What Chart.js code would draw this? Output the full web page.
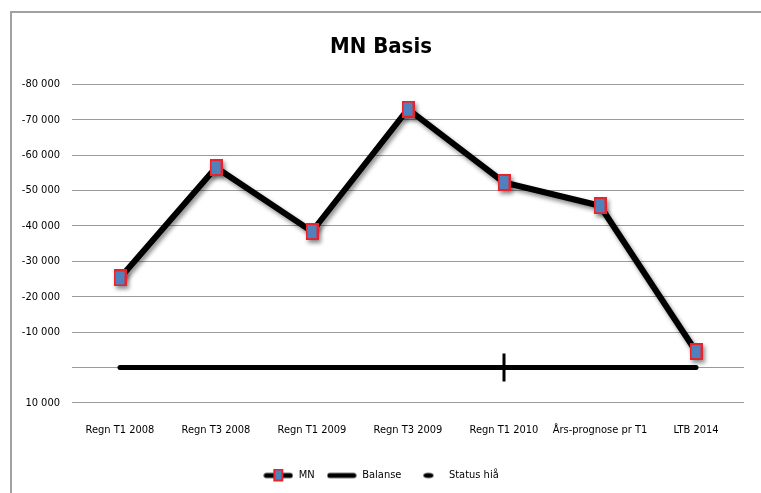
<!DOCTYPE html>
<html>
<head>
<meta charset="utf-8">
<script src="https://cdn.jsdelivr.net/npm/chart.js@4"></script>
<style>
  body { margin: 0; background: #fff; overflow: hidden; }
  #wrap { position: relative; width: 761px; height: 493px; }
  #frame { position: absolute; left: 10px; top: 11px; width: 751px; height: 482px;
           border-left: 2px solid #a0a0a0; border-top: 2px solid #a0a0a0; box-sizing: border-box; }
  #myChart { position: absolute; left: 0; top: 0; }
</style>
</head>
<body>
<div id="wrap">
  <div id="frame"></div>
  <canvas id="myChart" width="761" height="493"></canvas>
</div>
<script>
  const labels = ['Regn T1 2008', 'Regn T3 2008', 'Regn T1 2009', 'Regn T3 2009', 'Regn T1 2010', 'Års-prognose pr T1', 'LTB 2014'];
  const mnValues = [-25300, -56500, -38400, -73000, -52300, -45700, -4500];
  const balanseValues = [0, 0, 0, 0, 0, 0, 0];
  const statusValues = [null, null, null, null, 0, null, null];

  const font = "'DejaVu Sans Condensed', 'Liberation Sans Narrow', 'Liberation Sans', sans-serif";

  // square marker, a bit taller than wide
  function marker(w, h) {
    const c = document.createElement('canvas');
    c.width = w; c.height = h;
    const g = c.getContext('2d');
    g.fillStyle = '#e8232b';
    g.fillRect(0, 0, w, h);
    g.fillStyle = '#4f81bd';
    g.fillRect(2, 2, w - 4, h - 4);
    return c;
  }

  function legendIcon(kind) {
    const c = document.createElement('canvas');
    c.width = 30; c.height = 14;
    const g = c.getContext('2d');
    g.fillStyle = '#000';
    if (kind === 'status') {
      g.beginPath();
      g.ellipse(15, 7, 2.5, 5, 0, 0, Math.PI * 2);
      g.fill();
      return c;
    }
    g.lineWidth = 5;
    g.lineCap = 'round';
    g.beginPath();
    g.moveTo(3, 7);
    g.lineTo(27, 7);
    g.stroke();
    if (kind === 'mn') g.drawImage(marker(10, 13), 10, 0);
    return c;
  }

  const icons = [legendIcon('mn'), legendIcon('line'), legendIcon('status')];

  const shadow = {
    id: 'shadow',
    beforeDatasetDraw(chart, args) {
      if (args.index !== 0) return;
      const ctx = chart.ctx;
      ctx.save();
      ctx.shadowColor = 'rgba(0,0,0,0.45)';
      ctx.shadowBlur = 4;
      ctx.shadowOffsetX = 2;
      ctx.shadowOffsetY = 3;
    },
    afterDatasetDraw(chart, args) {
      if (args.index !== 0) return;
      chart.ctx.restore();
    }
  };

  const ctx = document.getElementById('myChart');

  new Chart(ctx, {
    type: 'line',
    data: {
      labels: labels,
      datasets: [{
        label: 'MN',
        data: mnValues,
        borderColor: '#000',
        borderWidth: 6,
        pointStyle: marker(13, 17),
        pointRadius: 8,
        order: 1,
      }, {
        label: 'Balanse',
        data: balanseValues,
        borderColor: '#000',
        borderWidth: 5,
        borderCapStyle: 'round',
        pointRadius: 0,
        order: 2,
      }, {
        label: 'Status hiå',
        data: statusValues,
        showLine: false,
        borderColor: '#000',
        backgroundColor: '#000',
        borderWidth: 3,
        pointStyle: 'line',
        rotation: 90,
        pointRadius: 14,
        order: 0,
      }],
    },
    options: {
      responsive: false,
      animation: false,
      layout: { padding: { left: 12, right: 11, top: 0, bottom: 2 } },
      plugins: {
        title: {
          display: true,
          text: 'MN Basis',
          color: '#000',
          font: { family: font, size: 22, weight: 'bold' },
          padding: { top: 34, bottom: 24 },
        },
        legend: {
          position: 'bottom',
          labels: {
            usePointStyle: true,
            pointStyleWidth: 30,
            color: '#000',
            padding: 12,
            font: { family: font, size: 11 },
            sort: (a, b) => a.datasetIndex - b.datasetIndex,
            generateLabels: (chart) => Chart.defaults.plugins.legend.labels.generateLabels(chart)
              .map((l) => ({ ...l, pointStyle: icons[l.datasetIndex] })),
          },
        },
        tooltip: { enabled: false },
      },
      scales: {
        y: {
          reverse: true,
          min: -80000,
          max: 10000,
          afterFit: (s) => { s.width = 60; s.paddingTop = 0; s.paddingBottom = 0; },
          ticks: {
            stepSize: 10000,
            padding: 12,
            color: '#000',
            font: { family: font, size: 11 },
            callback: (v) => v === 0 ? '' : (v < 0 ? '-' : '') + Math.abs(v).toLocaleString('en-US').replace(',', ' '),
          },
          grid: { color: '#9a9a9a', lineWidth: 1, drawTicks: false },
          border: { display: false },
        },
        x: {
          offset: true,
          afterFit: (s) => { s.height += 8; s.paddingLeft = 0; s.paddingRight = 0; },
          ticks: {
            color: '#000',
            padding: 13,
            maxRotation: 0,
            autoSkip: false,
            font: { family: font, size: 11 },
          },
          grid: { display: false, offset: true },
          border: { display: false },
        },
      },
    },
    plugins: [shadow],
  });
</script>
</body>
</html>
